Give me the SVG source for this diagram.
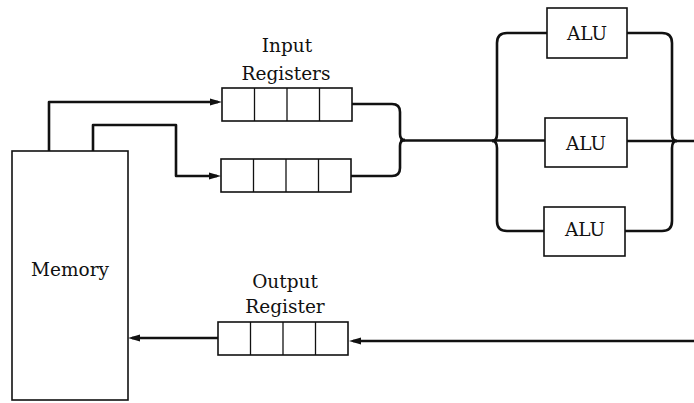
<svg xmlns="http://www.w3.org/2000/svg" xmlns:xlink="http://www.w3.org/1999/xlink" width="694" height="403" viewBox="0 0 694 403">
<style>
.box{fill:#fff;stroke:#111;stroke-width:1.6}
.cell{stroke:#111;stroke-width:1.3}
.wire{fill:none;stroke:#111;stroke-width:2.6;stroke-linejoin:round}
.lbl{font-family:"DejaVu Serif","Liberation Serif",serif;font-size:18.5px;fill:#111;text-anchor:middle}
</style>
<defs>
<marker id="arr" markerUnits="userSpaceOnUse" markerWidth="13" markerHeight="8" refX="8" refY="4" orient="auto">
<path d="M0,0.5 L12,4 L0,7.5 z" fill="#111"/>
</marker>
<g id="reg">
<rect class="box" x="0" y="0" width="130" height="33"/>
<line class="cell" x1="32.5" y1="0" x2="32.5" y2="33"/>
<line class="cell" x1="65" y1="0" x2="65" y2="33"/>
<line class="cell" x1="97.5" y1="0" x2="97.5" y2="33"/>
</g>
</defs>
<rect width="694" height="403" fill="#fff"/>
<g id="connectors">
<path class="wire" d="M49,151 V102 H218" marker-end="url(#arr)"/>
<path class="wire" d="M93,151 V125 H176 V176 H217" marker-end="url(#arr)"/>
<path class="wire" d="M352,104 H392 Q400,104 400,112 V134 Q400,140 405,140"/>
<path class="wire" d="M351,176 H392 Q400,176 400,168 V146 Q400,140 405,140"/>
<path class="wire" d="M400,140.5 H545"/>
<path class="wire" d="M492,141 Q497,141 497,134 V43 Q497,33 507,33 H547"/>
<path class="wire" d="M492,141 Q497,141 497,148 V221 Q497,231 507,231 H544"/>
<path class="wire" d="M627,33 H662 Q672,33 672,43 V134 Q672,141 677,141"/>
<path class="wire" d="M625,231 H662 Q672,231 672,221 V148 Q672,141 677,141"/>
<path class="wire" d="M627,141 H694"/>
<path class="wire" d="M218,338 H132" marker-end="url(#arr)"/>
<path class="wire" d="M694,341 H353" marker-end="url(#arr)"/>
</g>
<g id="memory">
<rect class="box" x="12" y="151" width="116" height="249"/>
<text class="lbl" x="70" y="276">Memory</text>
</g>
<g id="input-register-1">
<use xlink:href="#reg" x="222" y="88"/>
</g>
<g id="input-register-2">
<use xlink:href="#reg" x="221" y="159"/>
</g>
<g id="input-registers-label">
<text class="lbl" x="287" y="52">Input</text>
<text class="lbl" x="286" y="80">Registers</text>
</g>
<g id="alu-1">
<rect class="box" x="547" y="8" width="80" height="50"/>
<text class="lbl" x="587" y="39.5">ALU</text>
</g>
<g id="alu-2">
<rect class="box" x="545" y="118" width="82" height="49"/>
<text class="lbl" x="586" y="149.5">ALU</text>
</g>
<g id="alu-3">
<rect class="box" x="544" y="207" width="81" height="49"/>
<text class="lbl" x="585" y="236">ALU</text>
</g>
<g id="output-register">
<use xlink:href="#reg" x="218" y="322" transform="translate(0,0)"/>
<text class="lbl" x="285" y="287.5">Output</text>
<text class="lbl" x="285" y="312.5">Register</text>
</g>
</svg>
